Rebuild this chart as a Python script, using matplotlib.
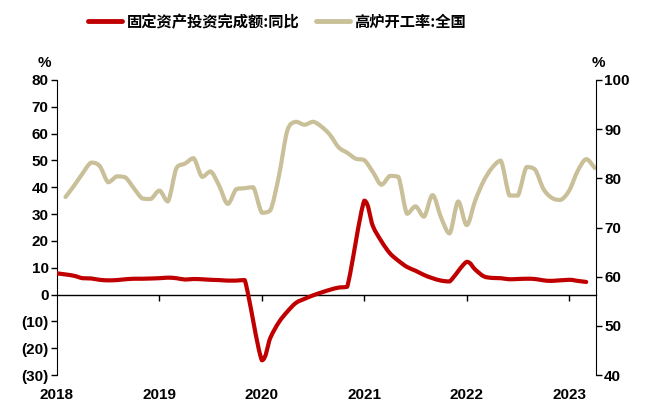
import matplotlib
import matplotlib.pyplot as plt
from matplotlib.lines import Line2D
from matplotlib.patches import PathPatch
from matplotlib.path import Path
from matplotlib.ticker import FuncFormatter

matplotlib.use("Agg")

plt.rcParams["font.family"] = ["Liberation Sans", "Noto Sans CJK SC", "DejaVu Sans"]
plt.rcParams["font.weight"] = "bold"

# Fixed asset investment, cumulative YoY (%), Feb..Dec each year
fai_years = [2018, 2019, 2020, 2021, 2022, 2023]
fai_values = [
    [7.9, 7.5, 7.0, 6.1, 6.0, 5.5, 5.3, 5.4, 5.7, 5.9, 5.9],
    [6.1, 6.3, 6.1, 5.6, 5.8, 5.7, 5.5, 5.4, 5.2, 5.2, 5.4],
    [-24.5, -16.1, -10.3, -6.3, -3.1, -1.6, -0.3, 0.8, 1.8, 2.6, 2.9],
    [35.0, 25.6, 19.9, 15.4, 12.6, 10.3, 8.9, 7.3, 6.1, 5.2, 4.9],
    [12.2, 9.3, 6.8, 6.2, 6.1, 5.7, 5.8, 5.9, 5.8, 5.3, 5.1],
    [5.5, 5.1, 4.7],
]

# Blast furnace operating rate, national (%), monthly from early 2018
bf_start = 2018 + 1 / 12
bf_values = [
    76.2, 78.5, 81.0, 83.2, 82.5, 79.2, 80.4, 80.2, 78.0, 75.9, 75.8, 77.5,
    75.3, 82.1, 83.0, 84.1, 80.3, 81.4, 78.5, 74.8, 77.8, 78.0, 78.2, 73.0,
    73.5, 80.5, 89.8, 91.5, 90.9, 91.5, 90.5, 88.8, 86.3, 85.2, 84.0, 83.7,
    81.3, 78.7, 80.5, 80.3, 72.8, 74.3, 72.2, 76.6, 72.0, 68.8, 75.3, 70.5,
    75.5, 79.5, 82.2, 83.6, 76.5, 76.5, 82.3, 81.8, 77.8, 76.0, 75.6, 77.5,
    81.5, 83.9, 82.1,
]

year_ticks = [2018, 2019, 2020, 2021, 2022, 2023]

RED = "#C00000"
KHAKI = "#C9BF98"


def smooth_line(ax, xs, ys, color, lw, z=2):
    # smoothed line: Catmull-Rom segments as cubic Beziers, control points
    # clamped to each segment's y range so big jumps don't overshoot
    pts = list(zip(xs, ys))
    verts = [pts[0]]
    codes = [Path.MOVETO]
    n = len(pts)
    for i in range(n - 1):
        p0 = pts[max(i - 1, 0)]
        p1 = pts[i]
        p2 = pts[i + 1]
        p3 = pts[min(i + 2, n - 1)]
        lo, hi = min(p1[1], p2[1]), max(p1[1], p2[1])
        c1y = min(max(p1[1] + (p2[1] - p0[1]) / 6, lo), hi)
        c2y = min(max(p2[1] - (p3[1] - p1[1]) / 6, lo), hi)
        c1 = (p1[0] + (p2[0] - p0[0]) / 6, c1y)
        c2 = (p2[0] - (p3[0] - p1[0]) / 6, c2y)
        verts += [c1, c2, p2]
        codes += [Path.CURVE4] * 3
    patch = PathPatch(Path(verts, codes), facecolor="none", edgecolor=color, lw=lw,
                      capstyle="round", joinstyle="round", zorder=z)
    ax.add_patch(patch)


fai_x, fai_y = [], []
for yr, vals in zip(fai_years, fai_values):
    for i, v in enumerate(vals):
        fai_x.append(yr + i / 12)
        fai_y.append(v)
bf_x = [bf_start + i / 12 for i in range(len(bf_values))]

fig = plt.figure(figsize=(6.49, 4.05), dpi=100)
ax = fig.add_axes([0.0878, 0.074, 0.8302, 0.7285])
ax2 = ax.twinx()

smooth_line(ax, fai_x, fai_y, RED, 3, z=3)
smooth_line(ax2, bf_x, bf_values, KHAKI, 3)
ax.set_zorder(ax2.get_zorder() + 1)
ax.patch.set_visible(False)

ax.set_xlim(2018, 2023.26)
ax.set_ylim(-30, 80)
ax2.set_ylim(40, 100)
ax.set_yticks(range(-30, 81, 10))
ax2.set_yticks(range(40, 101, 10))
ax.yaxis.set_major_formatter(FuncFormatter(lambda v, p: f"({abs(int(v))})" if v < 0 else f"{int(v)}"))

for a in (ax, ax2):
    a.spines["top"].set_visible(False)
    a.spines["bottom"].set_visible(False)
ax2.spines["left"].set_visible(False)
ax.spines["right"].set_visible(False)

ax.tick_params(axis="y", direction="out", length=4, width=1, labelsize=11, pad=2)
ax2.tick_params(axis="y", direction="out", length=4, width=1, labelsize=11, pad=2)

ax.set_xticks(year_ticks)
ax.set_xticklabels([str(y) for y in year_ticks])
ax.tick_params(axis="x", length=0, labelsize=11, pad=9)

# zero line with year ticks
zero_pos = (0 - (-30)) / 110
sec = ax.secondary_xaxis(zero_pos)
sec.set_xticks(year_ticks[1:])
sec.set_xticklabels([])
sec.tick_params(axis="x", direction="out", length=4, width=1)
sec.spines["bottom"].set_linewidth(1)

fig.text(0.068, 0.835, "%", fontsize=11, fontweight="bold", ha="center")
fig.text(0.922, 0.835, "%", fontsize=11, fontweight="bold", ha="center")

handles = [Line2D([], [], color=RED, lw=3.5, solid_capstyle="round"),
           Line2D([], [], color=KHAKI, lw=3.5, solid_capstyle="round")]
labels = ["固定资产投资完成额:同比", "高炉开工率:全国"]
fig.legend(handles, labels, loc="upper left", bbox_to_anchor=(0.115, 1.0), ncol=2,
           frameon=False, handlelength=2.2, columnspacing=1.1, handletextpad=0.3,
           prop={"family": ["Noto Sans CJK SC", "DejaVu Sans"], "weight": "black", "size": 11})

fig.savefig("out.png", dpi=100)
